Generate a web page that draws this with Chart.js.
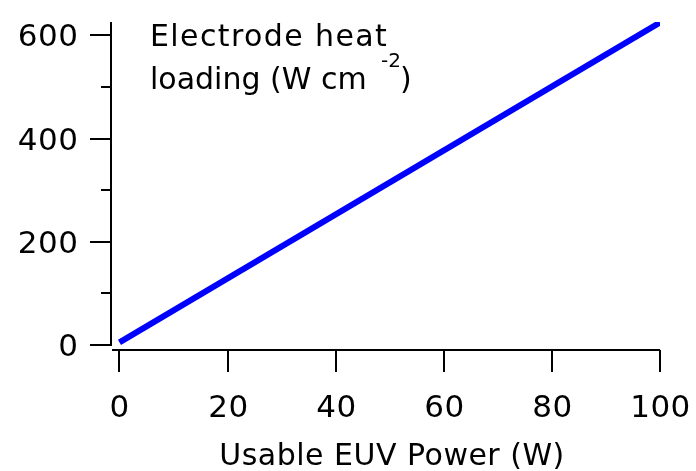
<!DOCTYPE html>
<html>
<head>
<meta charset="utf-8">
<script src="https://cdn.jsdelivr.net/npm/chart.js@4/dist/chart.umd.min.js"></script>
<style>
  html, body { margin: 0; padding: 0; background: #fff; }
  #wrap { width: 696px; height: 471px; }
</style>
</head>
<body>
<div id="wrap"><canvas id="c" width="696" height="471"></canvas></div>
<script>
// ---- data ----
const powerW = [0, 100];            // Usable EUV Power (W)
const heatLoading = [5, 625];       // Electrode heat loading (W cm^-2)
const xTickValues = [0, 20, 40, 60, 80, 100];
const yMajorTicks = [0, 200, 400, 600];
const yMinorTicks = [100, 300, 500];
const xTitle = 'Usable EUV Power (W)';
const yTitleLine1 = 'Electrode heat';
const yTitleLine2 = 'loading (W cm';
const yTitleSup = '-2';
const yTitleEnd = ')';

const FONT = '"DejaVu Sans", Verdana, sans-serif';

const axesPlugin = {
  id: 'igorAxes',
  afterDraw(chart) {
    const ctx = chart.ctx;
    const xs = chart.scales.x, ys = chart.scales.y;
    const area = chart.chartArea;
    ctx.save();
    ctx.strokeStyle = '#000';
    ctx.fillStyle = '#000';
    ctx.lineWidth = 2;
    ctx.lineCap = 'butt';
    const yAxisX = area.left;
    const xAxisY = area.bottom;
    // y axis line
    ctx.beginPath();
    ctx.moveTo(yAxisX, area.top);
    ctx.lineTo(yAxisX, ys.getPixelForValue(0) + 1);
    ctx.stroke();
    // x axis line
    ctx.beginPath();
    ctx.moveTo(area.left + 1, xAxisY);
    ctx.lineTo(area.right, xAxisY);
    ctx.stroke();
    // y ticks
    ctx.font = '31px ' + FONT;
    ctx.letterSpacing = '0.5px';
    ctx.textAlign = 'right';
    ctx.textBaseline = 'alphabetic';
    yMajorTicks.forEach(v => {
      const py = Math.round(ys.getPixelForValue(v));
      ctx.beginPath();
      ctx.moveTo(yAxisX - 21, py);
      ctx.lineTo(yAxisX, py);
      ctx.stroke();
      ctx.fillText(String(v), yAxisX - 32.5, py + 11);
    });
    yMinorTicks.forEach(v => {
      const py = Math.round(ys.getPixelForValue(v));
      ctx.beginPath();
      ctx.moveTo(yAxisX - 10, py);
      ctx.lineTo(yAxisX, py);
      ctx.stroke();
    });
    // x ticks
    ctx.textAlign = 'center';
    xTickValues.forEach(v => {
      const px = Math.round(xs.getPixelForValue(v));
      ctx.beginPath();
      ctx.moveTo(px, xAxisY);
      ctx.lineTo(px, xAxisY + 22);
      ctx.stroke();
      ctx.fillText(String(v), px + 0.5, xAxisY + 67);
    });
    // x title
    ctx.font = '30px ' + FONT;
    ctx.letterSpacing = '0.5px';
    ctx.fillText(xTitle, 392, 465);
    // y title (inside plot)
    ctx.textAlign = 'left';
    ctx.letterSpacing = '1.4px';
    ctx.fillText(yTitleLine1, 150, 46);
    ctx.letterSpacing = '0px';
    ctx.fillText(yTitleLine2, 150, 89);
    ctx.font = '20px ' + FONT;
    ctx.fillText(yTitleSup, 381, 67);
    ctx.font = '30px ' + FONT;
    ctx.fillText(yTitleEnd, 400, 89);
    ctx.restore();
  }
};

new Chart(document.getElementById('c'), {
  type: 'line',
  data: {
    datasets: [{
      data: powerW.map((x, i) => ({ x: x, y: heatLoading[i] })),
      borderColor: '#0000ff',
      borderWidth: 6,
      pointRadius: 0,
      fill: false,
      tension: 0,
      borderCapStyle: 'butt'
    }]
  },
  options: {
    responsive: false,
    animation: false,
    devicePixelRatio: 1,
    layout: { padding: { left: 111, right: 36, top: 22, bottom: 121 } },
    plugins: { legend: { display: false }, tooltip: { enabled: false } },
    scales: {
      x: { type: 'linear', min: -1.57, max: 100, display: false },
      y: { type: 'linear', min: -9.7, max: 626, display: false }
    }
  },
  plugins: [axesPlugin]
});
</script>
</body>
</html>
